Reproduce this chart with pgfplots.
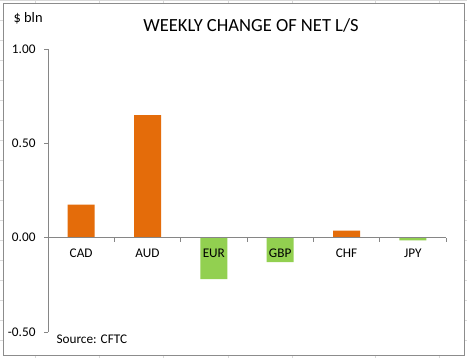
\documentclass[border=0pt]{standalone}
\usepackage{pgfplots}
\pgfplotsset{compat=1.18}
\usepackage{fontspec}
\setmainfont{Carlito}
\definecolor{barorange}{HTML}{E46C0A}
\definecolor{bargreen}{HTML}{92D050}
\definecolor{framegray}{HTML}{8C8C8C}
\definecolor{axgray}{HTML}{868686}
\definecolor{cellgray}{HTML}{D9D9D9}
\begin{document}
\begin{tikzpicture}[x=1bp,y=1bp]
% excel cell grid in the margins
\foreach \xx in {35,99,163,228,292,375,439}{\draw[cellgray,line width=0.8bp] (\xx,0) -- (\xx,358);}
\foreach \yy in {18,38,...,358}{\draw[cellgray,line width=0.8bp] (0,\yy) -- (467,\yy);}
\fill[white] (3.5,3) rectangle (464,354.5);
\draw[framegray,line width=1bp] (3.5,3) rectangle (464,354.5);
\begin{axis}[
  at={(48bp,26bp)}, anchor=south west,
  scale only axis, width=398bp, height=283bp,
  xmin=-0.5, xmax=5.5, ymin=-0.5, ymax=1,
  axis x line*=middle, axis y line*=left,
  axis on top,
  axis line style={axgray, line width=0.8bp},
  xtick={0,1,2,3,4,5},
  xticklabels={CAD,AUD,EUR,GBP,CHF,JPY},
  major x tick style={draw=none},
  minor xtick={0.5,1.5,2.5,3.5,4.5,5.5},
  minor x tick style={axgray, line width=0.8bp},
  minor tick length=4bp,
  ytick={-0.5,0,0.5,1},
  major tick length=4bp,
  tick align=outside,
  ytick style={axgray, line width=0.8bp},
  yticklabel={\pgfmathprintnumber[fixed,fixed zerofill,precision=2]{\tick}},
  yticklabel style={font=\fontsize{13.3}{15}\selectfont, xshift=-5bp},
  xticklabel style={font=\fontsize{13.3}{15}\selectfont, yshift=-4bp},
  /pgf/number format/assume math mode=true,
  ybar, bar width=27bp, bar shift=0pt,
  clip=false,
]
\addplot[fill=barorange, draw=none] coordinates {(0,0.175) (1,0.65) (4,0.037)};
\addplot[fill=bargreen, draw=none] coordinates {(2,-0.22) (3,-0.13) (5,-0.015)};
\end{axis}
\node[font=\fontsize{18.6}{22}\selectfont] at (251,333) {WEEKLY CHANGE OF NET L/S};
\node[font=\fontsize{14.5}{16}\selectfont, anchor=west] at (10,340) {\$ bln};
\node[font=\fontsize{13.3}{15}\selectfont, anchor=west] at (53,19) {Source: CFTC};
\pgfresetboundingbox
\useasboundingbox (0,0) rectangle (467,358);
\end{tikzpicture}
\end{document}
